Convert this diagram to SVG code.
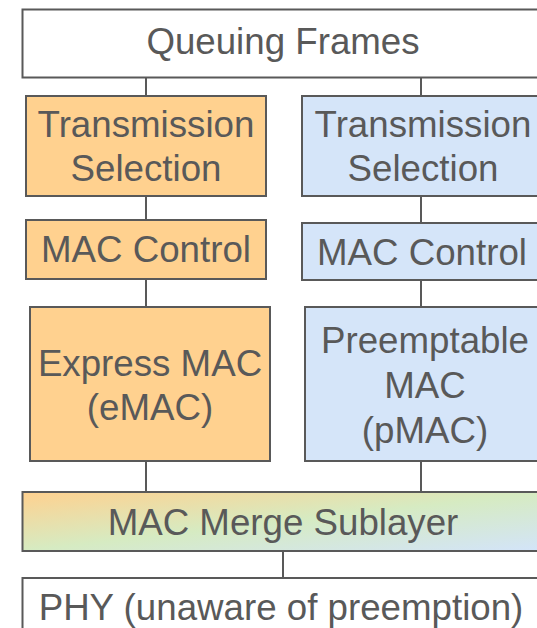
<svg xmlns="http://www.w3.org/2000/svg" width="537" height="628" viewBox="0 0 537 628">
<style>
.box{stroke:#595959;stroke-width:2}
.w{fill:#ffffff}
.o{fill:#FFD18F}
.b{fill:#D5E5F9}
.m{fill:url(#merge)}
text{font-family:"Liberation Sans",Arial,sans-serif;font-size:36.7px;fill:#595959;text-anchor:middle}
.c{stroke:#595959;stroke-width:2;fill:none}
</style>
<defs>
<linearGradient id="merge" x1="0" y1="0" x2="1" y2="1">
<stop offset="0" stop-color="#FFD18F"/>
<stop offset="0.5" stop-color="#D6EBC2"/>
<stop offset="1" stop-color="#D3E4FA"/>
</linearGradient>
</defs>
<rect width="537" height="628" fill="#ffffff"/>
<g id="connectors">
<line class="c" x1="146" y1="78" x2="146" y2="96"/>
<line class="c" x1="421" y1="78" x2="421" y2="96"/>
<line class="c" x1="146" y1="196" x2="146" y2="220"/>
<line class="c" x1="421" y1="196" x2="421" y2="223"/>
<line class="c" x1="146" y1="279" x2="146" y2="307"/>
<line class="c" x1="421" y1="280" x2="421" y2="307"/>
<line class="c" x1="146" y1="461" x2="146" y2="492"/>
<line class="c" x1="421" y1="461" x2="421" y2="492"/>
<line class="c" x1="283" y1="551" x2="283" y2="578"/>
</g>
<g id="queuing">
<rect class="box w" x="22.5" y="9.5" width="522" height="68"/>
<text x="283" y="54">Queuing Frames</text>
</g>
<g id="ts-express">
<rect class="box o" x="26" y="96" width="240" height="100"/>
<text x="146" y="137">Transmission</text>
<text x="146" y="181">Selection</text>
</g>
<g id="ts-preempt">
<rect class="box b" x="302" y="96" width="242" height="100"/>
<text x="423" y="137">Transmission</text>
<text x="423" y="181">Selection</text>
</g>
<g id="macctl-express">
<rect class="box o" x="26" y="220" width="240" height="59"/>
<text x="146" y="262">MAC Control</text>
</g>
<g id="macctl-preempt">
<rect class="box b" x="302" y="223" width="242" height="57"/>
<text x="422" y="265">MAC Control</text>
</g>
<g id="emac">
<rect class="box o" x="30" y="307" width="240" height="154"/>
<text x="150" y="376">Express MAC</text>
<text x="150" y="420">(eMAC)</text>
</g>
<g id="pmac">
<rect class="box b" x="305" y="307" width="239" height="154"/>
<text x="425" y="353">Preemptable</text>
<text x="425" y="398">MAC</text>
<text x="425" y="443">(pMAC)</text>
</g>
<g id="merge-sublayer">
<rect class="box m" x="22.5" y="492" width="522" height="59"/>
<text x="283" y="535">MAC Merge Sublayer</text>
</g>
<g id="phy">
<rect class="box w" x="22.5" y="578" width="522" height="60"/>
<text x="281" y="620">PHY (unaware of preemption)</text>
</g>
</svg>
